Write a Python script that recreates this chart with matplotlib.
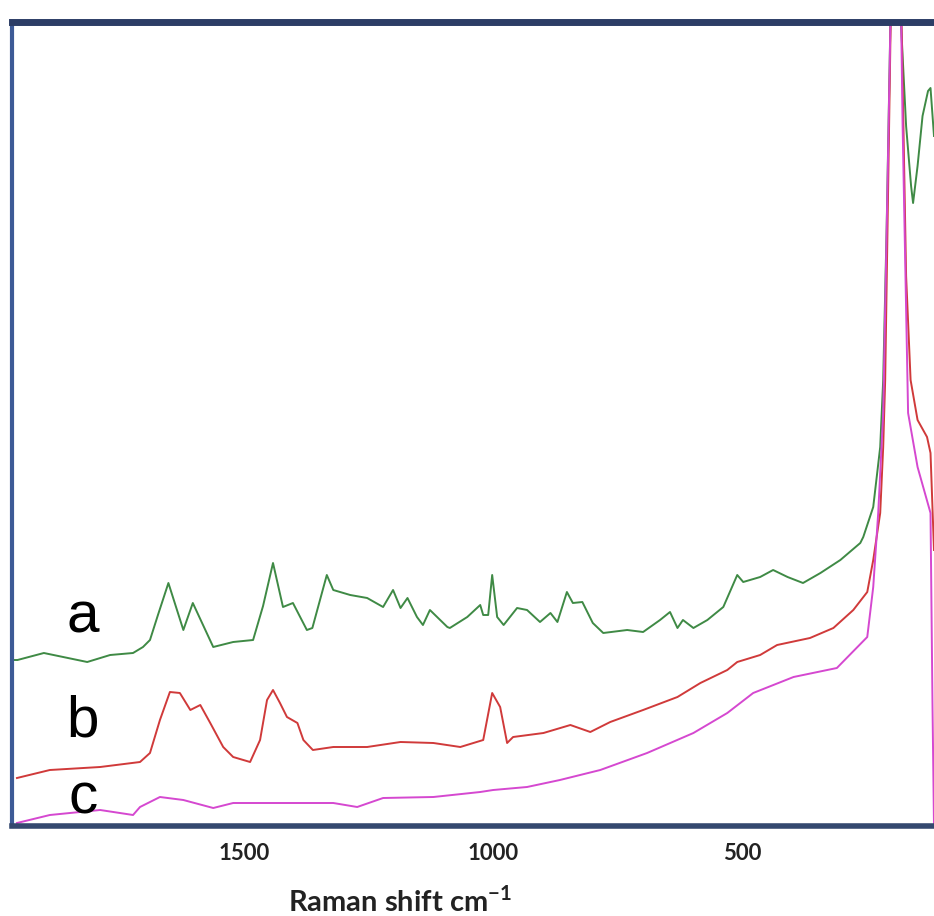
import matplotlib
matplotlib.use('Agg')
import matplotlib.pyplot as plt

# Raman shift (cm-1) / intensity (a.u.)
wn_a = [1966, 1955, 1902, 1815, 1769, 1723, 1703, 1689, 1673, 1652, 1622,
        1603, 1562, 1522, 1482, 1462, 1442, 1422, 1402, 1374, 1363, 1334,
        1321, 1287, 1253, 1221, 1201, 1186, 1172, 1153, 1141, 1127, 1092,
        1087, 1052, 1026, 1020, 1010, 1002, 992, 979, 952, 932, 906, 885,
        871, 852, 840, 821, 800, 779, 731, 699, 665, 645, 630, 619, 598,
        570, 538, 510, 498, 464, 438, 409, 378, 343, 303, 263, 257, 237,
        223, 217, 210, 199, 189, 181, 171, 161, 157, 148, 138, 127, 122, 115]
int_a = [166, 166, 173, 164, 171, 173, 179, 186, 211, 243, 196,
         223, 179, 184, 186, 220, 263, 219, 223, 196, 198, 251,
         236, 231, 228, 219, 236, 218, 228, 209, 201, 216, 199,
         198, 209, 221, 211, 211, 251, 209, 201, 218, 216, 204, 213,
         204, 234, 223, 224, 203, 193, 196, 194, 206, 214, 198, 206, 198,
         206, 219, 251, 244, 249, 256, 249, 243, 253, 266, 283, 289, 319,
         379, 446, 600, 900, 1100, 800, 700, 640, 623, 660, 710, 735, 738, 690]

wn_b = [1956, 1890, 1789, 1709, 1689, 1669, 1649, 1629, 1608, 1588, 1568,
        1542, 1522, 1488, 1468, 1454, 1442, 1428, 1414, 1393, 1381, 1362,
        1321, 1253, 1186, 1120, 1066, 1020, 1002, 986, 972, 960, 899, 845,
        805, 765, 699, 630, 584, 530, 510, 464, 430, 364, 317, 277, 249,
        237, 223, 217, 213, 199, 189, 180, 171, 162, 148, 129, 122, 115]
int_b = [48, 56, 59, 64, 73, 106, 134, 133, 116, 121, 103,
         79, 69, 64, 86, 126, 136, 123, 109, 103, 86, 76,
         79, 79, 84, 83, 79, 86, 133, 119, 83, 89, 93, 101,
         94, 104, 116, 129, 143, 156, 164, 171, 181, 188, 198, 216, 234,
         266, 313, 379, 446, 900, 1100, 800, 550, 446, 406, 389, 373, 276]

wn_c = [1956, 1890, 1789, 1723, 1709, 1669, 1622, 1562, 1522, 1454, 1321,
        1273, 1221, 1120, 1026, 1000, 932, 866, 785, 691, 598, 530, 478,
        397, 310, 249, 237, 227, 217, 208, 199, 189, 178, 167, 148, 122, 118, 115]
int_c = [3, 11, 16, 11, 19, 29, 26, 18, 23, 23, 23,
         19, 28, 29, 34, 36, 39, 46, 56, 73, 93, 113, 133,
         149, 158, 189, 239, 313, 413, 650, 900, 1100, 700, 413, 359, 313, 120, 0]

labels = ['a', 'b', 'c']
xticks = [1500, 1000, 500]

fig = plt.figure(figsize=(9.34, 9.16), dpi=100)
ax = fig.add_axes([12 / 934, 90 / 916, 922 / 934, 804 / 916])

ax.plot(wn_a, int_a, color='#3f8a45', lw=1.4)
ax.plot(wn_b, int_b, color='#d03a3a', lw=1.4)
ax.plot(wn_c, int_c, color='#d548d0', lw=1.4)

ax.set_xlim(1966, 115)
ax.set_ylim(0, 804)

# curve letters
for lab, ybase in zip(labels, [0.241, 0.111, 0.016]):
    ax.text(0.077, ybase, lab, transform=ax.transAxes, ha='center',
            va='baseline', fontsize=42, family='Liberation Sans')

ax.set_xticks(xticks)
ax.set_xticklabels([str(t) for t in xticks], fontsize=16, fontweight='bold',
                   family='Lato', color='#222222')
ax.tick_params(axis='x', length=0, pad=12)
ax.set_yticks([])

ax.set_xlabel('Raman shift cm$^{\\mathregular{-1}}$', fontsize=21,
              fontweight='bold', family='Lato', color='#222222')
ax.xaxis.label.set_verticalalignment('baseline')
ax.xaxis.set_label_coords(0.421, -0.107)

ax.spines['right'].set_visible(False)
ax.spines['top'].set_color('#2c3d66')
ax.spines['top'].set_linewidth(5)
ax.spines['left'].set_color('#3d5a96')
ax.spines['left'].set_linewidth(3)
ax.spines['bottom'].set_color('#34486f')
ax.spines['bottom'].set_linewidth(4)

fig.savefig('out.png', dpi=100)
